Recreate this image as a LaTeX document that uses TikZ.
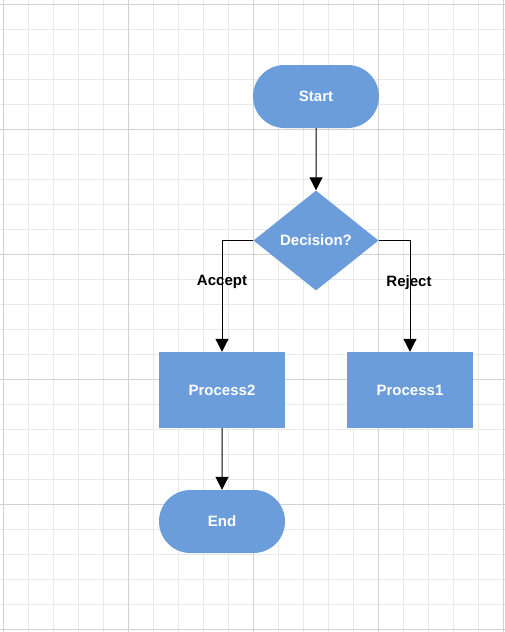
\documentclass[tikz,border=0pt]{standalone}
\usepackage{fontspec}
\setmainfont{Liberation Sans}
\usetikzlibrary{shapes.geometric,shapes.misc,arrows.meta}
\definecolor{flowblue}{RGB}{106,157,217}
\definecolor{gridminor}{RGB}{233,233,233}
\definecolor{gridmajor}{RGB}{210,210,210}

\begin{document}
\begin{tikzpicture}[x=1pt,y=-1pt,
    terminal/.style={rounded rectangle, fill=flowblue, text=white,
        font=\fontsize{15}{17}\selectfont\bfseries,
        minimum width=126pt, minimum height=63pt, inner sep=0pt},
    process/.style={rectangle, fill=flowblue, text=white,
        font=\fontsize{15}{17}\selectfont\bfseries,
        minimum width=126pt, minimum height=76pt, inner sep=0pt},
    decision/.style={diamond, fill=flowblue, text=white,
        font=\fontsize{15}{17}\selectfont\bfseries,
        minimum width=125pt, minimum height=100pt, inner sep=0pt},
    connector/.style={draw=black, line width=1pt,
        -{Triangle[length=13pt,width=13pt]}},
    edgelabel/.style={font=\fontsize{15}{17}\selectfont\bfseries, text=black}]
    \useasboundingbox (0,0) rectangle (505,632);
    \fill[white] (0,0) rectangle (505,632);

    % Grid
    \foreach \x in {3,28,...,503} {
        \draw[gridminor, line width=0.8pt] (\x,0) -- (\x,632);
    }
    \foreach \y in {4,29,...,629} {
        \draw[gridminor, line width=0.8pt] (0,\y) -- (505,\y);
    }
    \foreach \x in {3,128,...,503} {
        \draw[gridmajor, line width=1pt] (\x,0) -- (\x,632);
    }
    \foreach \y in {4,129,...,629} {
        \draw[gridmajor, line width=1pt] (0,\y) -- (505,\y);
    }

    % Shapes
    \node[terminal] (start) at (316,96.5) {Start};
    \node[decision] (decide) at (316,240.5) {Decision?};
    \node[process] (process2) at (222,390) {Process2};
    \node[process] (process1) at (410,390) {Process1};
    \node[terminal] (finish) at (222,521.5) {End};

    % Connectors
    \draw[connector] (start) -- (decide);
    \draw[connector] (decide.west) -| (process2.north);
    \draw[connector] (decide.east) -| (process1.north);
    \draw[connector] (process2) -- (finish);

    % Labels
    \node[edgelabel] (acceptlbl) at (222,282) {Accept};
    \node[edgelabel] (rejectlbl) at (409,283) {Reject};
\end{tikzpicture}
\end{document}
